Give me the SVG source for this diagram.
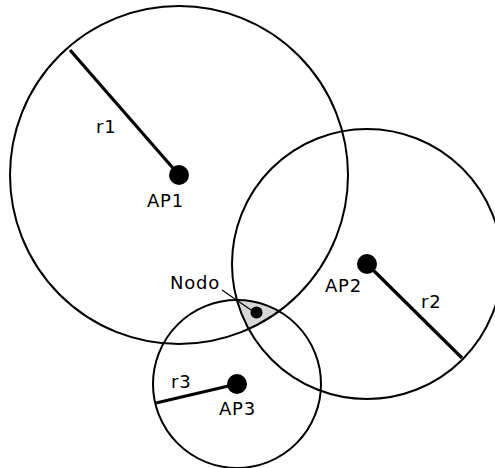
<svg xmlns="http://www.w3.org/2000/svg" width="495" height="468" viewBox="0 0 495 468">
<style>
.ring{fill:none;stroke:#000;stroke-width:2}
.rad{stroke:#000;stroke-width:3.2;stroke-linecap:butt}
.dot{fill:#000}
.lbl{font-family:"DejaVu Sans",sans-serif;font-size:18px;letter-spacing:0.8px;fill:#000}
</style>
<defs>
<clipPath id="clip1"><circle cx="179" cy="175" r="169"/></clipPath>
<clipPath id="clip2"><circle cx="367" cy="264" r="135"/></clipPath>
</defs>
<rect width="495" height="468" fill="#fff"/>
<g id="zone">
<g clip-path="url(#clip1)"><g clip-path="url(#clip2)"><circle cx="237" cy="384" r="84" fill="#d6d6d6"/></g></g>
</g>
<g id="ap1">
<circle class="ring" cx="179" cy="175" r="169"/>
<line class="rad" x1="70" y1="50" x2="179" y2="175"/>
<circle class="dot" cx="179" cy="175" r="10"/>
<text class="lbl" x="147" y="207">AP1</text>
<text class="lbl" x="96" y="133">r1</text>
</g>
<g id="ap2">
<circle class="ring" cx="367" cy="264" r="135"/>
<line class="rad" x1="367" y1="264" x2="462" y2="358"/>
<circle class="dot" cx="367" cy="264" r="10"/>
<text class="lbl" x="325" y="292">AP2</text>
<text class="lbl" x="421" y="308">r2</text>
</g>
<g id="ap3">
<circle class="ring" cx="237" cy="384" r="84"/>
<line class="rad" x1="156" y1="403" x2="237" y2="384"/>
<circle class="dot" cx="237" cy="384" r="10"/>
<text class="lbl" x="219" y="415">AP3</text>
<text class="lbl" x="171" y="388">r3</text>
</g>
<g id="nodo">
<circle class="dot" cx="256.5" cy="312.5" r="6"/>
<text class="lbl" x="170" y="289">Nodo</text>
</g>
<g id="connectors">
<line x1="222" y1="290" x2="251" y2="310" stroke="#000" stroke-width="1.2"/>
</g>
</svg>
